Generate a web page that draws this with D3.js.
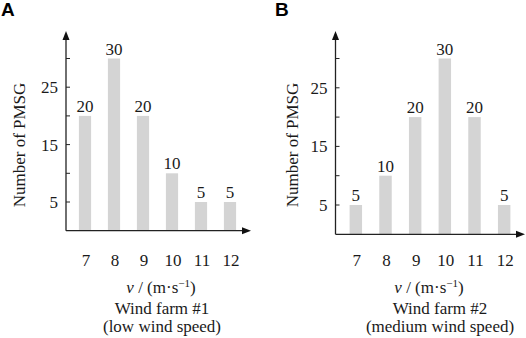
<!DOCTYPE html>
<html>
<head>
<meta charset="utf-8">
<script src="https://cdn.jsdelivr.net/npm/d3@7"></script>
<style>
  body { margin: 0; background: #fff; }
  text { font-family: "Liberation Serif", "Times New Roman", serif; fill: #1a1a1a; }
</style>
</head>
<body>
<div id="chart"></div>
<script>
// data
var speeds = ["7", "8", "9", "10", "11", "12"];
var farm1 = [20, 30, 20, 10, 5, 5];
var farm2 = [5, 10, 20, 30, 20, 5];
var yTicks = [5, 10, 15, 20, 25, 30];
var yLabels = [5, 15, 25];

var svg = d3.select("#chart")
  .append("svg")
    .attr("width", 526)
    .attr("height", 338);

// one panel per wind farm
var panels = [
  {letter: "A", values: farm1, x0: 66, x1: 251, y0: 230.7, yTop: 31, bandL: 70.5, bandR: 244.5,
   yLabX: 19, axisX: 161, ticksY: 266, unitY: 293, t1: "Wind farm #1", t2: "(low wind speed)", titleX: 162, letterX: 1},
  {letter: "B", values: farm2, x0: 335.5, x1: 525, y0: 234.3, yTop: 31, bandL: 341, bandR: 519,
   yLabX: 292, axisX: 429, ticksY: 266, unitY: 293, t1: "Wind farm #2", t2: "(medium wind speed)", titleX: 440, letterX: 275}
];

panels.forEach(function(p) {
  var g = svg.append("g");

  var x = d3.scaleBand()
    .domain(speeds)
    .range([p.bandL, p.bandR])
    .paddingInner(0.58)
    .paddingOuter(0.29);

  var y = d3.scaleLinear()
    .domain([0, 30])
    .range([p.y0, 58.5]);

  // bars
  g.selectAll("rect")
    .data(p.values)
    .enter()
    .append("rect")
      .attr("x", function(d, i) { return x(speeds[i]); })
      .attr("y", function(d) { return y(d); })
      .attr("width", x.bandwidth())
      .attr("height", function(d) { return p.y0 - y(d); })
      .attr("fill", "#d4d4d4");

  // value labels
  g.selectAll(".val")
    .data(p.values)
    .enter()
    .append("text")
      .attr("class", "val")
      .attr("x", function(d, i) { return x(speeds[i]) + x.bandwidth() / 2; })
      .attr("y", function(d) { return y(d) - 4; })
      .attr("text-anchor", "middle")
      .style("font-size", "17px")
      .text(function(d) { return d; });

  // axes lines
  g.append("line")
    .attr("x1", p.x0).attr("x2", p.x0)
    .attr("y1", p.y0).attr("y2", p.yTop + 6)
    .attr("stroke", "#222").attr("stroke-width", 1.3);
  g.append("line")
    .attr("x1", p.x0).attr("x2", p.x1 - 6)
    .attr("y1", p.y0).attr("y2", p.y0)
    .attr("stroke", "#222").attr("stroke-width", 1.3);

  // arrowheads
  g.append("path")
    .attr("d", "M" + p.x0 + "," + p.yTop + "L" + (p.x0 - 3.5) + "," + (p.yTop + 9) + "L" + (p.x0 + 3.5) + "," + (p.yTop + 9) + "Z")
    .attr("fill", "#111");
  g.append("path")
    .attr("d", "M" + p.x1 + "," + p.y0 + "L" + (p.x1 - 9) + "," + (p.y0 - 3.5) + "L" + (p.x1 - 9) + "," + (p.y0 + 3.5) + "Z")
    .attr("fill", "#111");

  // y ticks (inside)
  g.selectAll(".tick")
    .data(yTicks)
    .enter()
    .append("line")
      .attr("x1", p.x0).attr("x2", p.x0 + 4)
      .attr("y1", function(d) { return y(d); })
      .attr("y2", function(d) { return y(d); })
      .attr("stroke", "#222");

  g.selectAll(".ylab")
    .data(yLabels)
    .enter()
    .append("text")
      .attr("class", "ylab")
      .attr("x", p.x0 - 8)
      .attr("y", function(d) { return y(d) + 6; })
      .attr("text-anchor", "end")
      .style("font-size", "17px")
      .text(function(d) { return d; });

  // x tick labels
  g.selectAll(".xlab")
    .data(speeds)
    .enter()
    .append("text")
      .attr("class", "xlab")
      .attr("x", function(d) { return x(d) + x.bandwidth() / 2 + 1; })
      .attr("y", p.ticksY)
      .attr("text-anchor", "middle")
      .style("font-size", "17px")
      .text(function(d) { return d; });

  // x axis title
  var xt = g.append("text")
    .attr("x", p.axisX)
    .attr("y", p.unitY)
    .attr("text-anchor", "middle")
    .style("font-size", "17px");
  xt.append("tspan").style("font-style", "italic").text("v");
  xt.append("tspan").text(" / (m·s");
  xt.append("tspan").attr("dy", -6).style("font-size", "11px").text("−1");
  xt.append("tspan").attr("dy", 6).text(")");

  // y axis title
  g.append("text")
    .attr("transform", "translate(" + (p.yLabX + 6) + ",145) rotate(-90)")
    .attr("text-anchor", "middle")
    .style("font-size", "17px")
    .text("Number of PMSG");

  // farm caption
  g.append("text")
    .attr("x", p.titleX).attr("y", 314)
    .attr("text-anchor", "middle")
    .style("font-size", "17px")
    .text(p.t1);
  g.append("text")
    .attr("x", p.titleX).attr("y", 332)
    .attr("text-anchor", "middle")
    .style("font-size", "17px")
    .text(p.t2);

  // panel letter
  g.append("text")
    .attr("x", p.letterX).attr("y", 16)
    .style("font-family", "'Liberation Sans', Arial, sans-serif")
    .style("font-weight", "bold")
    .style("font-size", "19px")
    .style("fill", "#000")
    .text(p.letter);
});
</script>
</body>
</html>
